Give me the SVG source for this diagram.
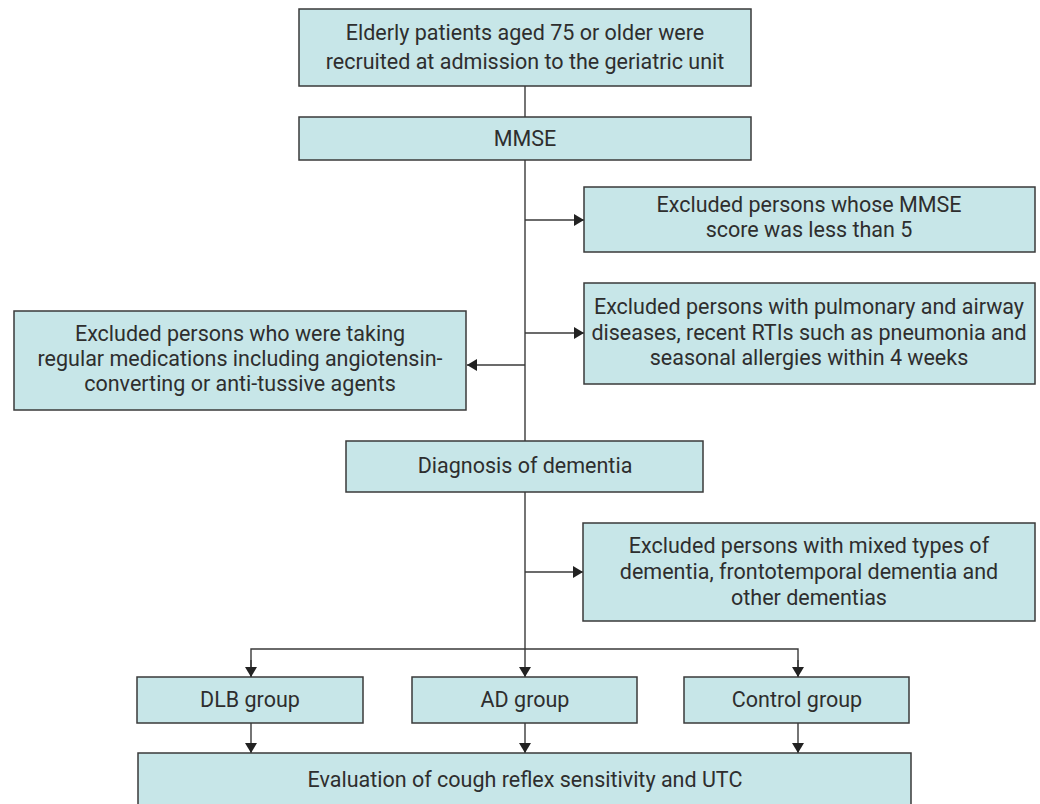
<svg xmlns="http://www.w3.org/2000/svg" width="1040" height="804" viewBox="0 0 1040 804">
<style>
.box{fill:#c7e6e8;stroke:#3a3a3a;stroke-width:1.5}
.t{font-family:Roboto,"Liberation Sans",sans-serif;font-size:21.5px;fill:#2e2e2e;text-anchor:middle}
.ln{fill:none;stroke:#3a3a3a;stroke-width:1.4}
</style>
<defs>
<marker id="ah" viewBox="0 0 10 12" refX="10" refY="6" markerWidth="10" markerHeight="12" markerUnits="userSpaceOnUse" orient="auto">
<path d="M0,0 L10,6 L0,12 Z" fill="#222"/>
</marker>
</defs>
<rect width="1040" height="804" fill="#fff"/>
<g id="connectors">
<line class="ln" x1="525" y1="86" x2="525" y2="117"/>
<line class="ln" x1="525" y1="160" x2="525" y2="441"/>
<line class="ln" x1="525" y1="220" x2="584" y2="220" marker-end="url(#ah)"/>
<line class="ln" x1="525" y1="333" x2="584" y2="333" marker-end="url(#ah)"/>
<line class="ln" x1="525" y1="365" x2="467" y2="365" marker-end="url(#ah)"/>
<line class="ln" x1="525" y1="492" x2="525" y2="677" marker-end="url(#ah)"/>
<line class="ln" x1="525" y1="572" x2="583" y2="572" marker-end="url(#ah)"/>
<polyline class="ln" points="251,677 251,649 798,649 798,677"/>
<line class="ln" x1="251" y1="660" x2="251" y2="677" marker-end="url(#ah)"/>
<line class="ln" x1="798" y1="660" x2="798" y2="677" marker-end="url(#ah)"/>
<line class="ln" x1="251" y1="723" x2="251" y2="753" marker-end="url(#ah)"/>
<line class="ln" x1="525" y1="723" x2="525" y2="753" marker-end="url(#ah)"/>
<line class="ln" x1="798" y1="723" x2="798" y2="753" marker-end="url(#ah)"/>
</g>
<g id="n-start">
<rect class="box" x="299" y="9" width="452" height="77"/>
<text class="t" x="525" y="40">Elderly patients aged 75 or older were</text>
<text class="t" x="525" y="69">recruited at admission to the geriatric unit</text>
</g>
<g id="n-mmse">
<rect class="box" x="299" y="117" width="452" height="43"/>
<text class="t" x="525" y="146">MMSE</text>
</g>
<g id="n-excl-mmse">
<rect class="box" x="584" y="187" width="451" height="65"/>
<text class="t" x="809" y="212">Excluded persons whose MMSE</text>
<text class="t" x="809" y="237">score was less than 5</text>
</g>
<g id="n-excl-pulm">
<rect class="box" x="584" y="283" width="451" height="101"/>
<text class="t" x="809" y="314">Excluded persons with pulmonary and airway</text>
<text class="t" x="809" y="340">diseases, recent RTIs such as pneumonia and</text>
<text class="t" x="809" y="365">seasonal allergies within 4 weeks</text>
</g>
<g id="n-excl-med">
<rect class="box" x="14" y="311" width="452" height="99"/>
<text class="t" x="240" y="341">Excluded persons who were taking</text>
<text class="t" x="240" y="366">regular medications including angiotensin-</text>
<text class="t" x="240" y="391">converting or anti-tussive agents</text>
</g>
<g id="n-diag">
<rect class="box" x="346" y="441" width="357" height="51"/>
<text class="t" x="525" y="473">Diagnosis of dementia</text>
</g>
<g id="n-excl-mixed">
<rect class="box" x="583" y="523" width="452" height="98"/>
<text class="t" x="809" y="553">Excluded persons with mixed types of</text>
<text class="t" x="809" y="579">dementia, frontotemporal dementia and</text>
<text class="t" x="809" y="605">other dementias</text>
</g>
<g id="n-dlb">
<rect class="box" x="137" y="677" width="226" height="46"/>
<text class="t" x="250" y="707">DLB group</text>
</g>
<g id="n-ad">
<rect class="box" x="412" y="677" width="225" height="46"/>
<text class="t" x="525" y="707">AD group</text>
</g>
<g id="n-control">
<rect class="box" x="684" y="677" width="225" height="46"/>
<text class="t" x="797" y="707">Control group</text>
</g>
<g id="n-eval">
<rect class="box" x="138" y="753" width="773" height="52"/>
<text class="t" x="525" y="787">Evaluation of cough reflex sensitivity and UTC</text>
</g>
</svg>
